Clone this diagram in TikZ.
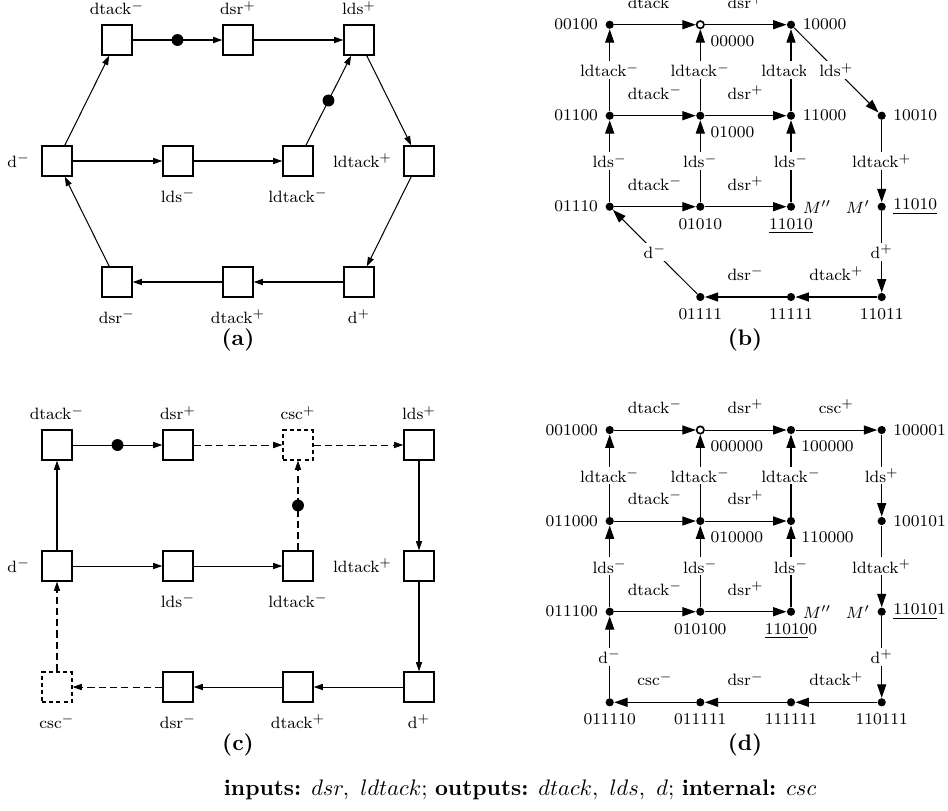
\documentclass[tikz,border=0pt]{standalone}
\usetikzlibrary{arrows.meta}
\begin{document}
\begin{tikzpicture}[x=0.4878pt,y=-0.4878pt, font=\footnotesize,
  tr/.style={draw, line width=0.7pt, minimum size=14.6pt, inner sep=0pt},
  dtr/.style={tr, dash pattern=on 2pt off 1.5pt, line width=0.6pt},
  la/.style={label={[label distance=1pt]above:#1}},
  lb/.style={label={[label distance=2.5pt]below:#1}},
  ll/.style={label={[label distance=2pt]left:#1}},
  pa/.style={-{Triangle[length=4.5pt,width=3pt]}, line width=0.5pt},
  pad/.style={pa, dash pattern=on 3.5pt off 2pt},
  tok/.style={circle, fill=black, minimum size=5.8pt, inner sep=0pt},
  st/.style={circle, fill=black, minimum size=4pt, inner sep=0pt},
  ost/.style={circle, draw, fill=white, line width=0.8pt, minimum size=3.6pt, inner sep=0pt},
  pb/.style={-{Triangle[length=6.5pt,width=4.4pt]}, line width=0.5pt},
  vl/.style={fill=white, inner sep=1pt},
  hl/.style={anchor=base, yshift=8pt, inner sep=0pt},
  captxt/.style={font=\fontsize{10.95}{13.6}\selectfont\bfseries}
]
\useasboundingbox (0,0) rectangle (948,810);

% ---------------- (a) ----------------
\node[tr, la=dtack$^-$] (a1) at (117,40) {};
\node[tr, la=dsr$^+$] (a2) at (238,40) {};
\node[tr, la=lds$^+$] (a3) at (359,40) {};
\node[tr, ll=d$^-$] (a4) at (57,161) {};
\node[tr, lb=lds$^-$] (a5) at (178,161) {};
\node[tr, lb=ldtack$^-$] (a6) at (298,161) {};
\node[tr, ll=ldtack$^+$] (a7) at (419,161) {};
\node[tr, lb=dsr$^-$] (a8) at (117,282) {};
\node[tr, lb=dtack$^+$] (a9) at (238,282) {};
\node[tr, lb=d$^+$] (a10) at (359,282) {};
\draw[pa] (a1) -- node[tok]{} (a2);
\draw[pa] (a2) -- (a3);
\draw[pa] (a3) -- (a7);
\draw[pa] (a7) -- (a10);
\draw[pa] (a10) -- (a9);
\draw[pa] (a9) -- (a8);
\draw[pa] (a8) -- (a4);
\draw[pa] (a4) -- (a1);
\draw[pa] (a4) -- (a5);
\draw[pa] (a5) -- (a6);
\draw[pa] (a6) -- node[tok]{} (a3);
\node[captxt] (capa) at (238,340) {(a)};

% ---------------- (c) ----------------
\node[tr, la=dtack$^-$] (c1) at (57,445) {};
\node[tr, la=dsr$^+$] (c2) at (178,445) {};
\node[dtr, la=csc$^+$] (c3) at (298,445) {};
\node[tr, la=lds$^+$] (c4) at (419,445) {};
\node[tr, ll=d$^-$] (c5) at (57,566) {};
\node[tr, lb=lds$^-$] (c6) at (178,566) {};
\node[tr, lb=ldtack$^-$] (c7) at (298,566) {};
\node[tr, ll=ldtack$^+$] (c8) at (419,566) {};
\node[dtr, lb=csc$^-$] (c9) at (57,687) {};
\node[tr, lb=dsr$^-$] (c10) at (178,687) {};
\node[tr, lb=dtack$^+$] (c11) at (298,687) {};
\node[tr, lb=d$^+$] (c12) at (419,687) {};
\draw[pa] (c1) -- node[tok]{} (c2);
\draw[pad] (c2) -- (c3);
\draw[pad] (c3) -- (c4);
\draw[pa] (c4) -- (c8);
\draw[pa] (c8) -- (c12);
\draw[pa] (c12) -- (c11);
\draw[pa] (c11) -- (c10);
\draw[pad] (c10) -- (c9);
\draw[pad] (c9) -- (c5);
\draw[pa] (c5) -- (c1);
\draw[pa] (c5) -- (c6);
\draw[pa] (c6) -- (c7);
\draw[pad] (c7) -- node[tok]{} (c3);
\node[captxt] (capc) at (238,745) {(c)};

% ---------------- (b) ----------------
\node[st, label=left:00100] (b1) at (609.7,24.7) {};
\node[ost, label=below right:00000] (b2) at (700.3,24.7) {};
\node[st, label=right:10000] (b3) at (791,24.7) {};
\node[st, label=left:01100] (b4) at (609.7,115.7) {};
\node[st, label=below right:01000] (b5) at (700.3,115.7) {};
\node[st, label=right:11000] (b6) at (791,115.7) {};
\node[st, label=right:10010] (b7) at (881.7,115.7) {};
\node[st, label=left:01110] (b8) at (609.7,206.7) {};
\node[st, label=below:01010] (b9) at (700.3,206.7) {};
\node[st, label=below:\underline{11010}, label=right:$M''$] (b10) at (791,206.7) {};
\node[st, label=left:$M'$, label=right:\underline{11010}] (b11) at (881.7,206.7) {};
\node[st, label=below:01111] (b12) at (700.3,297) {};
\node[st, label=below:11111] (b13) at (791,297) {};
\node[st, label=below:11011] (b14) at (881.7,297) {};
\draw[pb] (b1) -- node[hl]{dtack$^-$} (b2);
\draw[pb] (b2) -- node[hl]{dsr$^+$} (b3);
\draw[pb] (b4) -- node[hl]{dtack$^-$} (b5);
\draw[pb] (b5) -- node[hl]{dsr$^+$} (b6);
\draw[pb] (b8) -- node[hl]{dtack$^-$} (b9);
\draw[pb] (b9) -- node[hl]{dsr$^+$} (b10);
\draw[pb] (b4) -- node[vl]{ldtack$^-$} (b1);
\draw[pb] (b5) -- node[vl]{ldtack$^-$} (b2);
\draw[pb] (b6) -- node[vl]{ldtack$^-$} (b3);
\draw[pb] (b8) -- node[vl]{lds$^-$} (b4);
\draw[pb] (b9) -- node[vl]{lds$^-$} (b5);
\draw[pb] (b10) -- node[vl]{lds$^-$} (b6);
\fill[white] (806,58) rectangle (822,84);
\draw[pb] (b3) -- node[vl]{lds$^+$} (b7);
\draw[pb] (b7) -- node[vl]{ldtack$^+$} (b11);
\draw[pb] (b11) -- node[vl]{d$^+$} (b14);
\draw[pb] (b14) -- node[hl]{dtack$^+$} (b13);
\draw[pb] (b13) -- node[hl]{dsr$^-$} (b12);
\draw[pb] (b12) -- node[vl]{d$^-$} (b8);
\node[captxt] (capb) at (745,340) {(b)};

% ---------------- (d) ----------------
\node[st, label=left:001000] (d1) at (609.7,430) {};
\node[ost, label=below right:000000] (d2) at (700.3,430) {};
\node[st, label=below right:100000] (d3) at (791,430) {};
\node[st, label=right:100001] (d4) at (881.7,430) {};
\node[st, label=left:011000] (d5) at (609.7,521) {};
\node[st, label=below right:010000] (d6) at (700.3,521) {};
\node[st, label=below right:110000] (d7) at (791,521) {};
\node[st, label=right:100101] (d8) at (881.7,521) {};
\node[st, label=left:011100] (d9) at (609.7,611.7) {};
\node[st, label=below:010100] (d10) at (700.3,611.7) {};
\node[st, label=below:\underline{11010}0, label=right:$M''$] (d11) at (791,611.7) {};
\node[st, label=left:$M'$, label=right:\underline{11010}1] (d12) at (881.7,611.7) {};
\node[st, label=below:011110] (d13) at (609.7,702.3) {};
\node[st, label=below:011111] (d14) at (700.3,702.3) {};
\node[st, label=below:111111] (d15) at (791,702.3) {};
\node[st, label=below:110111] (d16) at (881.7,702.3) {};
\draw[pb] (d1) -- node[hl]{dtack$^-$} (d2);
\draw[pb] (d2) -- node[hl]{dsr$^+$} (d3);
\draw[pb] (d3) -- node[hl]{csc$^+$} (d4);
\draw[pb] (d5) -- node[hl]{dtack$^-$} (d6);
\draw[pb] (d6) -- node[hl]{dsr$^+$} (d7);
\draw[pb] (d9) -- node[hl]{dtack$^-$} (d10);
\draw[pb] (d10) -- node[hl]{dsr$^+$} (d11);
\draw[pb] (d5) -- node[vl]{ldtack$^-$} (d1);
\draw[pb] (d6) -- node[vl]{ldtack$^-$} (d2);
\draw[pb] (d7) -- node[vl]{ldtack$^-$} (d3);
\draw[pb] (d4) -- node[vl]{lds$^+$} (d8);
\draw[pb] (d9) -- node[vl]{lds$^-$} (d5);
\draw[pb] (d10) -- node[vl]{lds$^-$} (d6);
\draw[pb] (d11) -- node[vl]{lds$^-$} (d7);
\draw[pb] (d8) -- node[vl]{ldtack$^+$} (d12);
\draw[pb] (d12) -- node[vl]{d$^+$} (d16);
\draw[pb] (d16) -- node[hl]{dtack$^+$} (d15);
\draw[pb] (d15) -- node[hl]{dsr$^-$} (d14);
\draw[pb] (d14) -- node[hl]{csc$^-$} (d13);
\draw[pb] (d13) -- node[vl]{d$^-$} (d9);
\node[captxt] (capd) at (745,745) {(d)};

% ---------------- caption ----------------
\node[font=\fontsize{10.95}{13.6}\selectfont, anchor=base, inner sep=0pt] (capt) at (520,795)
  {\textbf{inputs:} $dsr,\ ldtack$; \textbf{outputs:} $dtack,\ lds,\ d$; \textbf{internal:} $csc$};
\end{tikzpicture}
\end{document}
